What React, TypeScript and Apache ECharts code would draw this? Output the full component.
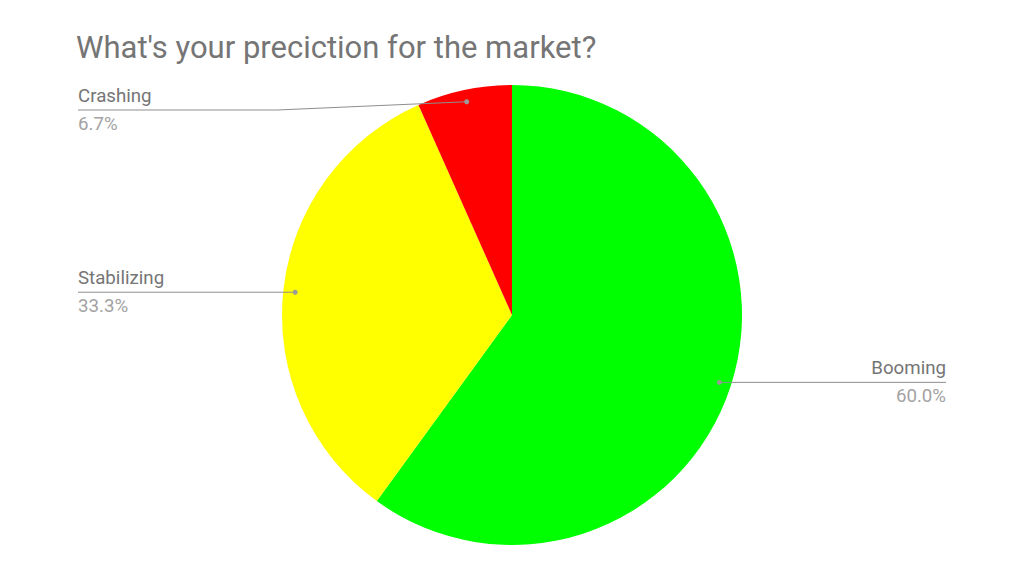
import React, { useEffect, useRef } from "react";
import * as echarts from "echarts";

const title = "What's your preciction for the market?";
const categories = ["Booming", "Stabilizing", "Crashing"];
const values = [9, 5, 1];
const colors = ["#00ff00", "#ffff00", "#ff0000"];

const W = 1024;
const H = 576;
const CX = 512;
const CY = 315;
const R = 230;
const DOT_R = 218;
const EDGE_LEFT = 78;
const EDGE_RIGHT = 946;
const MIN_LABEL_Y = 110;
const LEFT_BEND = 277;

function midAngle(i: number): number {
  const total = values.reduce((a, b) => a + b, 0);
  let before = 0;
  for (let k = 0; k < i; k++) before += values[k];
  return ((before + values[i] / 2) / total) * 360;
}

function dotPoint(i: number): [number, number] {
  const rad = (midAngle(i) * Math.PI) / 180;
  return [CX + DOT_R * Math.sin(rad), CY - DOT_R * Math.cos(rad)];
}

export default function App() {
  const ref = useRef<HTMLDivElement>(null);
  useEffect(() => {
    if (!ref.current) return;
    const chart = echarts.init(ref.current, undefined, { renderer: "svg" });
    const dots = categories.map((_, i) => {
      const p = dotPoint(i);
      return {
        type: "circle",
        z: 100,
        shape: { cx: p[0], cy: p[1], r: 2.5 },
        style: { fill: "#9a9a9a" },
      };
    });
    const pieData = categories.map((name, i) => ({
      name,
      value: values[i],
      itemStyle: { color: colors[i] },
    }));
    chart.setOption({
      animation: false,
      backgroundColor: "#ffffff",
      textStyle: { fontFamily: "Roboto" },
      title: {
        text: title,
        left: 71,
        top: 27,
        textStyle: {
          fontFamily: "Roboto",
          fontSize: 31,
          fontWeight: "normal",
          color: "#757575",
        },
      },
      graphic: dots,
      series: [
        {
          type: "pie",
          z: 2,
          center: [CX, CY],
          radius: R,
          startAngle: 90,
          clockwise: true,
          avoidLabelOverlap: false,
          data: pieData,
          itemStyle: { borderWidth: 0 },
          emphasis: { disabled: true },
          label: { show: false },
          labelLine: { show: false },
        },
        {
          type: "pie",
          z: 5,
          silent: true,
          center: [CX, CY],
          radius: R,
          startAngle: 90,
          clockwise: true,
          avoidLabelOverlap: false,
          data: pieData.map((d) => ({
            ...d,
            itemStyle: { color: "rgba(0,0,0,0)" },
          })),
          itemStyle: { borderWidth: 0 },
          emphasis: { disabled: true },
          label: {
            show: true,
            position: "outside",
            formatter: (p: any) =>
              `{n|${p.name}}\n{p|${p.percent.toFixed(1)}%}`,
            rich: {
              n: {
                fontFamily: "Roboto",
                fontSize: 18.7,
                color: "#757575",
                lineHeight: 28,
              },
              p: {
                fontFamily: "Roboto",
                fontSize: 18.7,
                color: "#a3a3a3",
                lineHeight: 28,
              },
            },
          },
          labelLine: {
            show: true,
            length: 10,
            length2: 10,
            lineStyle: { color: "#8e8e8e", width: 1 },
          },
          labelLayout: (params: any) => {
            const i = params.dataIndex;
            const dot = dotPoint(i);
            const left = dot[0] < CX;
            const y = Math.max(dot[1], MIN_LABEL_Y);
            const edgeX = left ? EDGE_LEFT : EDGE_RIGHT;
            const bendX = left ? Math.min(dot[0], LEFT_BEND) : dot[0];
            return {
              x: edgeX,
              y,
              align: left ? "left" : "right",
              verticalAlign: "middle",
              labelLinePoints: [
                [dot[0], dot[1]],
                [bendX, y],
                [edgeX, y],
              ],
            };
          },
        },
      ],
    });
    return () => chart.dispose();
  }, []);
  return (
    <div
      ref={ref}
      style={{ position: "fixed", left: 0, top: 0, width: W, height: H }}
    />
  );
}
